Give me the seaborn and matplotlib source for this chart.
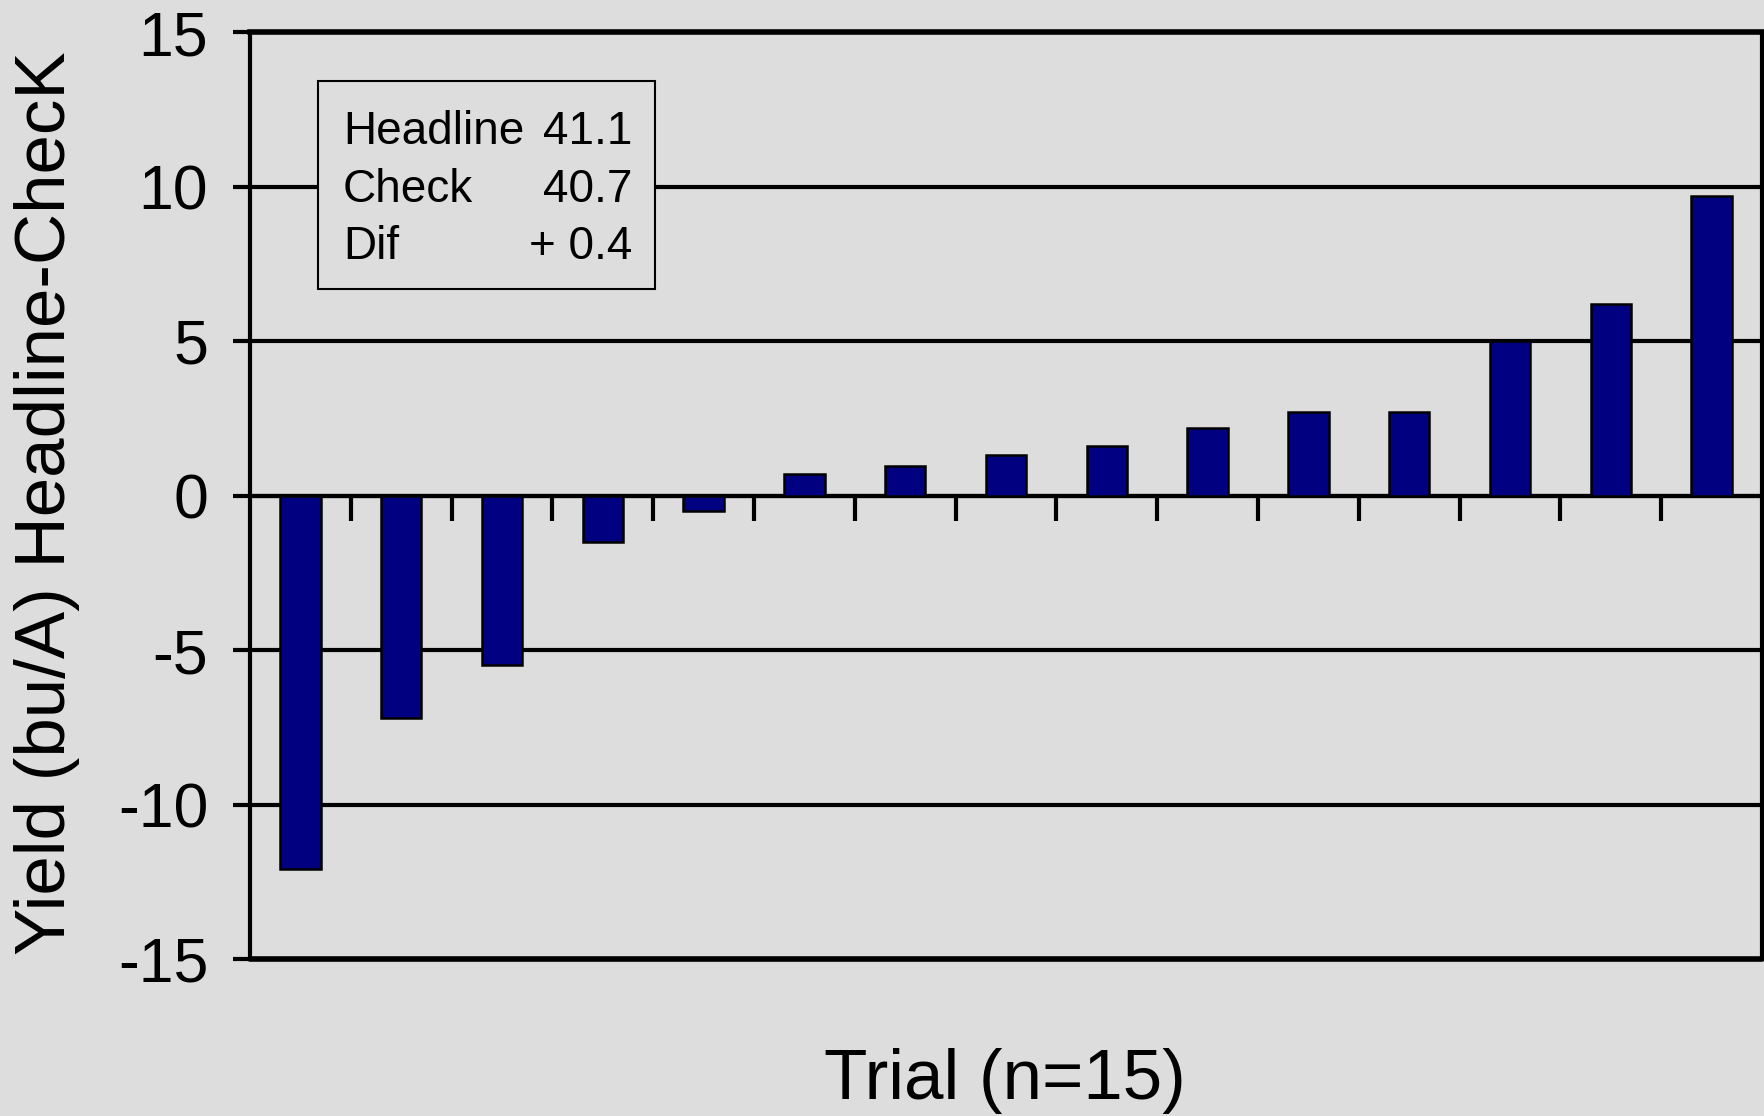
import numpy as np
import pandas as pd
import matplotlib
matplotlib.use("Agg")
import matplotlib.pyplot as plt
import seaborn as sns
from matplotlib.patches import Rectangle

# yield difference per trial, sorted low to high
trials = [str(i) for i in range(1, 16)]
diff = [-12.1, -7.2, -5.5, -1.5, -0.5, 0.7, 0.95, 1.3, 1.6, 2.2, 2.7, 2.7, 5.0, 6.2, 9.7]

box_names = ["Headline", "Check", "Dif"]
box_values = ["41.1", "40.7", "+ 0.4"]

yticks = [-15, -10, -5, 0, 5, 10, 15]

df = pd.DataFrame({"trial": trials, "diff": diff})

sns.set_style("white")
plt.rcParams["font.family"] = ["Liberation Sans", "DejaVu Sans"]
plt.rcParams["text.color"] = "black"
plt.rcParams["axes.labelcolor"] = "black"
bg = "#dddddd"

fig = plt.figure(figsize=(17.65, 11.16), dpi=100, facecolor=bg)
ax = fig.add_axes([250 / 1765, 1 - 959 / 1116, 1512 / 1765, 927 / 1116])
ax.set_facecolor(bg)

sns.barplot(data=df, x="trial", y="diff", order=trials, color="#000080",
            saturation=1, width=0.4, edgecolor="black", linewidth=1.8, ax=ax, zorder=3)

ax.set_xlim(-0.5, len(trials) - 0.5)
ax.set_ylim(-15, 15)
ax.set_yticks(yticks)
ax.set_yticklabels([str(t) for t in yticks], fontsize=45)
for y in yticks:
    ax.axhline(y, color="black", lw=3, zorder=2, clip_on=False)
ax.tick_params(axis="y", left=True, direction="out", length=12, width=3,
               pad=18, colors="black", labelcolor="black")

# x ticks at the category boundaries, hanging off the zero line
ax.spines["bottom"].set_position(("data", 0))
ax.set_xticks(np.arange(0.5, len(trials) - 1, 1))
ax.set_xticklabels([])
ax.tick_params(axis="x", bottom=True, direction="out", length=18, width=3, colors="black")
ax.axhline(-15, color="black", lw=4, clip_on=False, zorder=4)

for s in ["left", "right", "top", "bottom"]:
    ax.spines[s].set_visible(True)
    ax.spines[s].set_color("black")
    ax.spines[s].set_linewidth(3)
ax.spines["top"].set_linewidth(4)

ax.set_xlabel("Trial (n=15)", fontsize=51, color="black")
ax.set_ylabel("Yield (bu/A) Headline-ChecK", fontsize=51, color="black")
ax.xaxis.set_label_coords(0.499, -0.132)
ax.xaxis.label.set_va("center")
ax.yaxis.set_label_coords(-0.134, 0.492)
ax.yaxis.label.set_va("center")

# summary box
ax.add_patch(Rectangle((0.045, 0.723), 0.223, 0.224, transform=ax.transAxes,
                       facecolor=bg, edgecolor="black", lw=1.5, zorder=5))
for i, (n, v) in enumerate(zip(box_names, box_values)):
    yy = 0.892 - i * 0.062
    ax.text(0.0615, yy, n, transform=ax.transAxes, fontsize=33, va="center", ha="left",
            color="black", zorder=6)
    ax.text(0.2526, yy, v, transform=ax.transAxes, fontsize=33, va="center", ha="right",
            color="black", zorder=6)

fig.savefig("out.png", dpi=100, facecolor=bg)
